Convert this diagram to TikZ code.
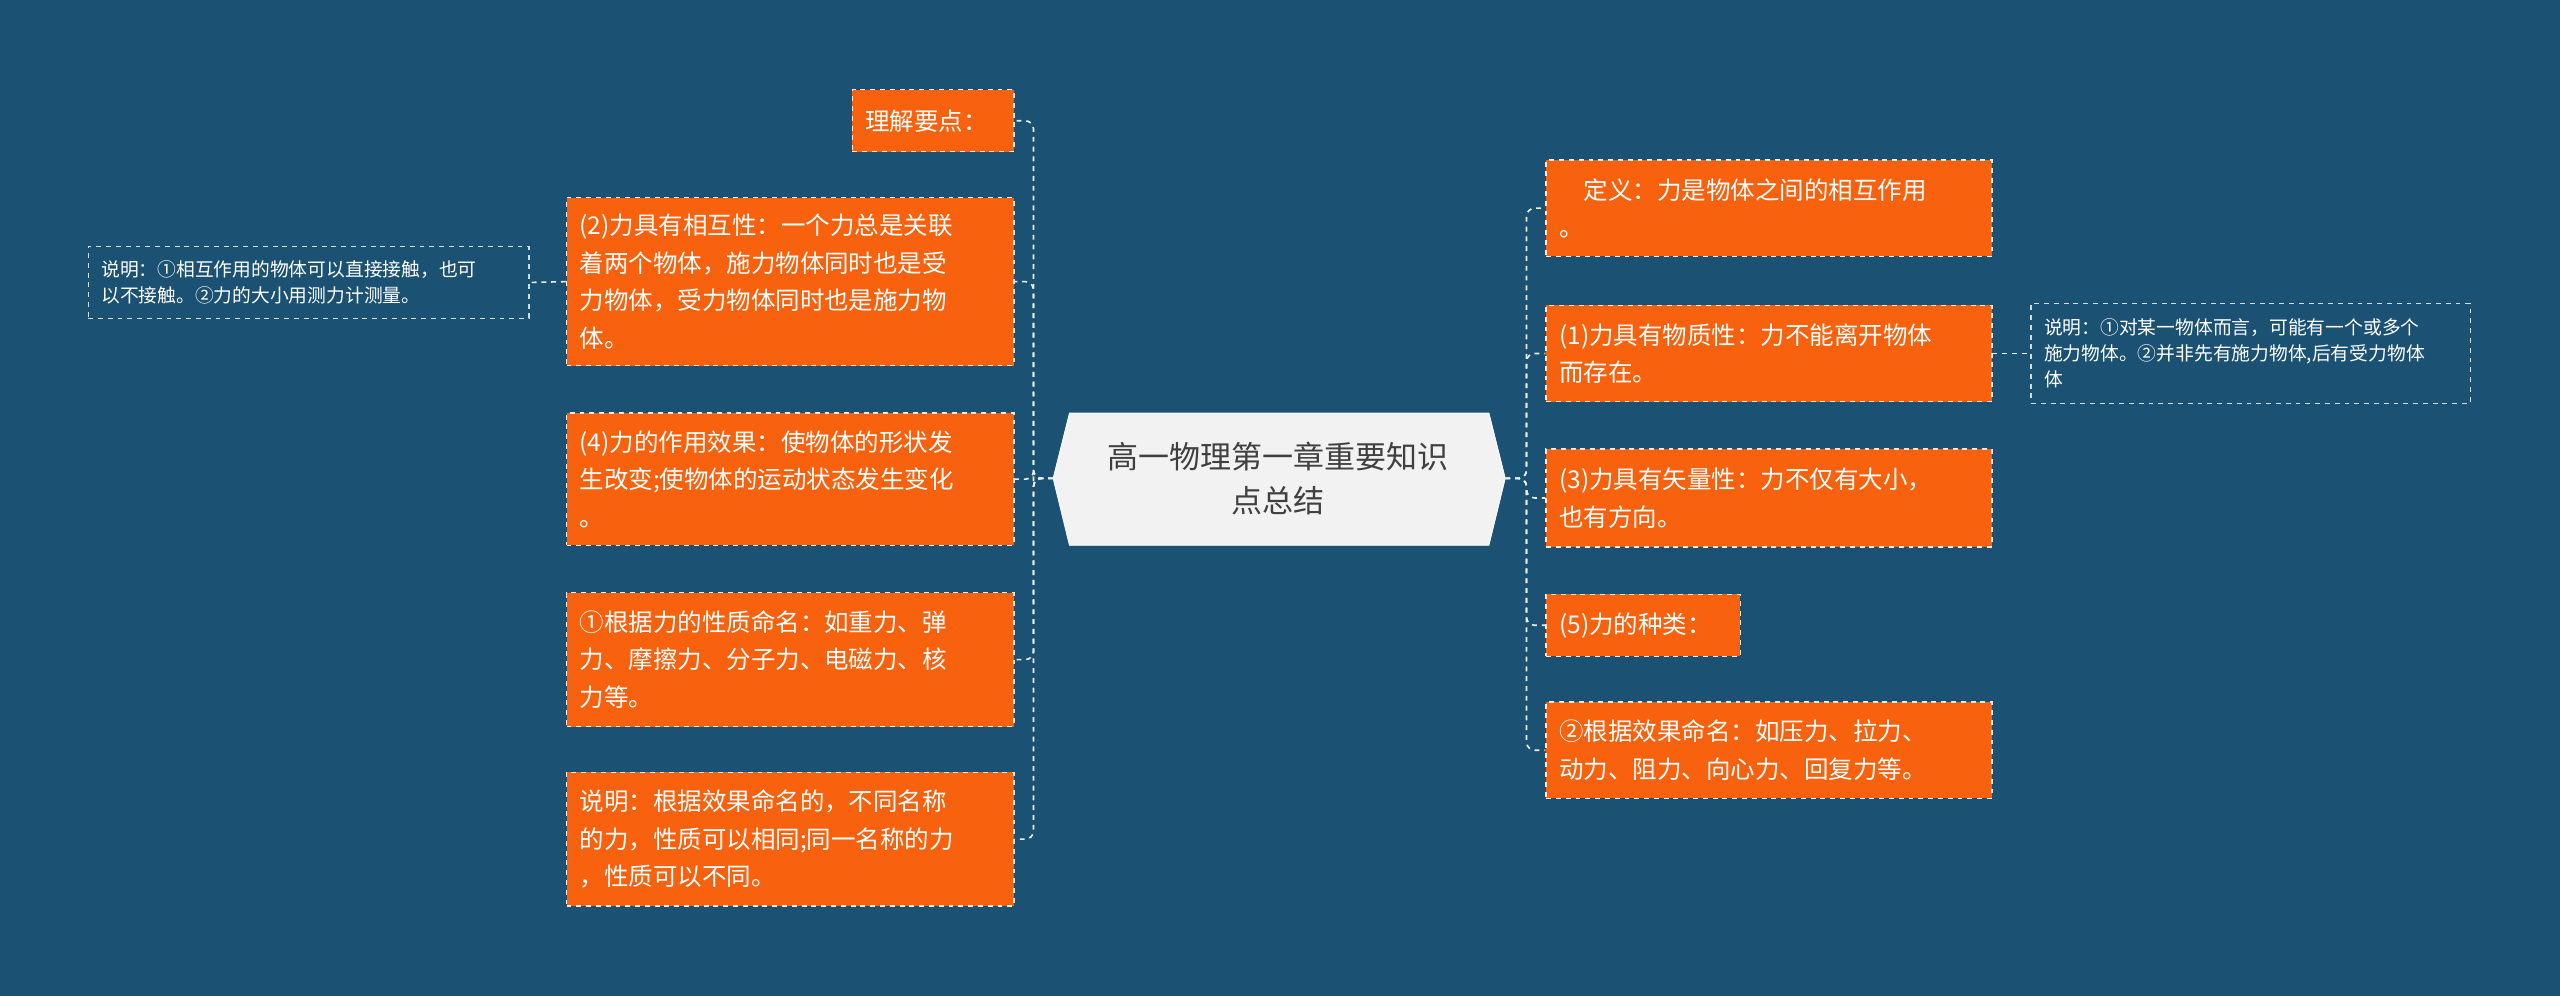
\documentclass[tikz,border=0pt]{standalone}
\usepackage{fontspec}
\setmainfont{Noto Sans CJK SC}
\begin{document}
\begin{tikzpicture}[x=1pt,y=1pt,
 box/.style={fill=boxorange,draw=white!85!boxorange,dashed,line width=0.8pt,text=white,
   font=\fontsize{15}{23}\selectfont,align=left,inner sep=0pt,anchor=center},
 note/.style={draw=white!80!bg,dashed,line width=0.8pt,text=white,
   font=\fontsize{11.5}{16}\selectfont,align=left,inner sep=0pt},
 link/.style={draw=white!90!bg,dashed,line width=1pt}]
\definecolor{bg}{HTML}{1B5172}
\definecolor{boxorange}{HTML}{F8610E}
\useasboundingbox (0,0) rectangle (1568,610);
\fill[bg] (0,0) rectangle (1568,610);
\newcommand{\bx}[7]{% name x1 y1 x2 y2 style text
 \node[#6,minimum width={#4-#2},minimum height={#5-#3},text width={#4-#2-16}] (#1) at ({(#2+#4)/2},{610-(#3+#5)/2}) {#7};}
% center
\fill[black!5,draw=white] (645,317) -- (655,357) -- (912,357) -- (922,317) -- (912,276) -- (655,276) -- cycle;
\node[font=\fontsize{19}{27}\selectfont,text=black!75,align=center] (c) at (783,317) {高一物理第一章重要知识\\点总结};
\coordinate (cl) at (645,317); \coordinate (cr) at (922,317);
% left
\bx{l1}{522}{55}{621}{93}{box}{理解要点：}
\bx{l2}{347}{121}{621}{224}{box}{(2)力具有相互性：一个力总是关联\\着两个物体，施力物体同时也是受\\力物体，受力物体同时也是施力物\\体。}
\bx{l3}{347}{253}{621}{334}{box}{(4)力的作用效果：使物体的形状发\\生改变;使物体的运动状态发生变化\\。}
\bx{l4}{347}{363}{621}{445}{box}{①根据力的性质命名：如重力、弹\\力、摩擦力、分子力、电磁力、核\\力等。}
\bx{l5}{347}{473}{621}{555}{box}{说明：根据效果命名的，不同名称\\的力，性质可以相同;同一名称的力\\，性质可以不同。}
\bx{ln}{54}{151}{324}{195}{note}{说明：①相互作用的物体可以直接接触，也可\\以不接触。②力的大小用测力计测量。}
% right
\bx{r1}{947}{98}{1220}{157}{box}{\quad 定义：力是物体之间的相互作用\\。}
\bx{r2}{947}{187}{1220}{246}{box}{(1)力具有物质性：力不能离开物体\\而存在。}
\bx{r3}{947}{275}{1220}{335}{box}{(3)力具有矢量性：力不仅有大小，\\也有方向。}
\bx{r4}{947}{364}{1066}{402}{box}{(5)力的种类：}
\bx{r5}{947}{430}{1220}{489}{box}{②根据效果命名：如压力、拉力、\\动力、阻力、向心力、回复力等。}
\bx{rn}{1244}{186}{1513}{247}{note}{说明：①对某一物体而言，可能有一个或多个\\施力物体。②并非先有施力物体,后有受力物体\\体}
% links
\foreach \n in {l1,l2,l3,l4,l5}
  \draw[link,rounded corners=5pt] (cl) -- (633,317) |- (\n.east);
\foreach \n in {r1,r2,r3,r4,r5}
  \draw[link,rounded corners=5pt] (cr) -- (935,317) |- (\n.west);
\draw[link] (l2.west) -- (ln.east);
\draw[link] (r2.east) -- (rn.west);
\end{tikzpicture}
\end{document}
